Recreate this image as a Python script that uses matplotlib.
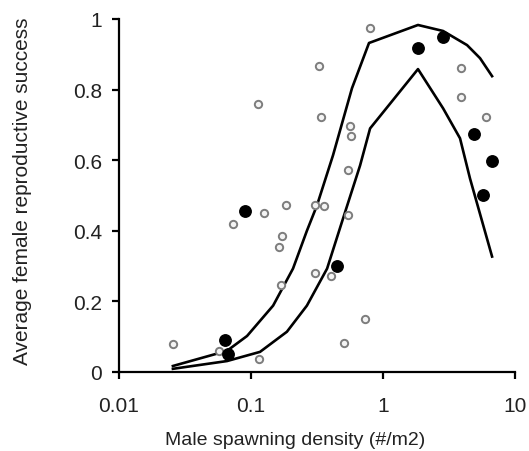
import matplotlib
matplotlib.use("Agg")
import matplotlib.pyplot as plt

plt.rcParams['font.family'] = ['Liberation Sans', 'DejaVu Sans']

# Datos
# Puntos grises (observaciones individuales)
gris_x = [0.798, 0.327, 3.90, 0.113, 3.90, 0.339, 6.03, 0.562, 0.573, 0.543,
          0.184, 0.306, 0.357, 0.125, 0.0731, 0.543, 0.172, 0.163, 0.168, 0.306,
          0.404, 0.731, 0.507, 0.0256, 0.0573, 0.115]
gris_y = [0.974, 0.866, 0.861, 0.759, 0.778, 0.722, 0.722, 0.696, 0.668, 0.571,
          0.474, 0.472, 0.469, 0.449, 0.418, 0.446, 0.384, 0.355, 0.247, 0.281,
          0.273, 0.151, 0.082, 0.080, 0.060, 0.037]

# Puntos negros (promedios)
negro_x = [0.0902, 0.0635, 0.0670, 0.449, 1.84, 2.87, 4.89, 6.70, 5.72]
negro_y = [0.455, 0.091, 0.051, 0.301, 0.918, 0.949, 0.673, 0.599, 0.500]

# Curva superior
sup_x = [0.0256, 0.0658, 0.0933, 0.147, 0.208, 0.265, 0.316, 0.418, 0.582,
         0.783, 1.84, 2.85, 4.33, 5.43, 6.70]
sup_y = [0.017, 0.060, 0.102, 0.188, 0.293, 0.400, 0.472, 0.614, 0.804,
         0.932, 0.983, 0.966, 0.926, 0.889, 0.838]

# Curva inferior
inf_x = [0.0256, 0.0658, 0.117, 0.187, 0.265, 0.377, 0.498, 0.670, 0.798,
         1.84, 2.85, 3.83, 4.56, 6.70]
inf_y = [0.009, 0.031, 0.057, 0.114, 0.188, 0.293, 0.435, 0.585, 0.690,
         0.858, 0.747, 0.662, 0.548, 0.327]

x_ticks = [0.01, 0.1, 1, 10]
x_etiquetas = ['0.01', '0.1', '1', '10']
y_ticks = [0, 0.2, 0.4, 0.6, 0.8, 1]
y_etiquetas = ['0', '0.2', '0.4', '0.6', '0.8', '1']

color_texto = '#222222'

fig = plt.figure(figsize=(5.29, 4.52), dpi=100)
ax = fig.add_axes([0.225, 0.1748, 0.7486, 0.781])

# Lineas de las curvas
ax.plot(sup_x, sup_y, color='black', linewidth=1.9, zorder=2)
ax.plot(inf_x, inf_y, color='black', linewidth=1.9, zorder=2)

# Puntos
ax.scatter(gris_x, gris_y, s=28, facecolor='#f4f4f4', edgecolor='#7d7d7d',
           linewidth=1.4, zorder=3, clip_on=False)
ax.scatter(negro_x, negro_y, s=68, color='black', zorder=4, clip_on=False)

ax.set_xscale('log')
ax.set_xlim(0.01, 10)
ax.set_ylim(0, 1)
ax.minorticks_off()
ax.set_xticks(x_ticks)
ax.set_xticklabels(x_etiquetas)
ax.set_yticks(y_ticks)
ax.set_yticklabels(y_etiquetas)

# Estilo de ejes
for lado in ['top', 'right']:
    ax.spines[lado].set_visible(False)
for lado in ['left', 'bottom']:
    ax.spines[lado].set_linewidth(1.6)
ax.tick_params(axis='both', direction='out', length=5, width=1.6,
               labelsize=15, labelcolor=color_texto)
ax.tick_params(axis='y', pad=7)
ax.tick_params(axis='x', pad=12)

ax.set_xlabel('Male spawning density (#/m2)', fontsize=14, va='center',
              color=color_texto)
ax.xaxis.set_label_coords(0.444, -0.19)
ax.set_ylabel('Average female reproductive success', fontsize=15, va='center',
              color=color_texto)
ax.yaxis.set_label_coords(-0.245, 0.514)

plt.savefig('out.png', dpi=100)
